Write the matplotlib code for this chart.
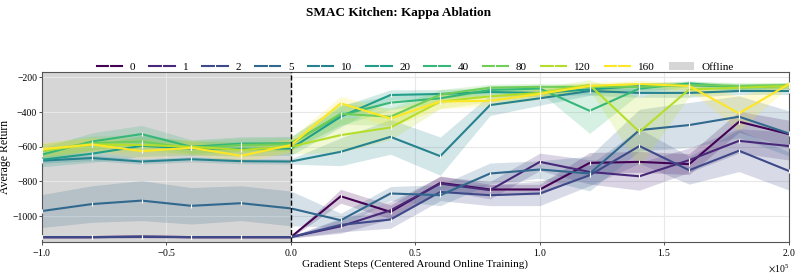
import numpy as np
import matplotlib
matplotlib.use("Agg")
import matplotlib.pyplot as plt
from matplotlib.patches import Patch

plt.rcParams['font.family'] = ['Liberation Serif', 'DejaVu Serif']
plt.rcParams['mathtext.fontset'] = 'stix'

# x positions (gradient steps / 1e5): offline -1..0, online 0..2
steps = [-1.0, -0.8, -0.6, -0.4, -0.2, 0.0, 0.2, 0.4, 0.6, 0.8, 1.0, 1.2, 1.4, 1.6, 1.8, 2.0]
kappas = ["0", "1", "2", "5", "10", "20", "40", "80", "120", "160"]

k0_mean   = [-1120, -1120, -1118, -1120, -1120, -1120, -885, -975, -808, -846, -846, -693, -687, -700, -456, -527]
k1_mean   = [-1120, -1120, -1118, -1120, -1120, -1120, -1058, -966, -812, -850, -687, -745, -770, -677, -566, -596]
k2_mean   = [-1120, -1120, -1118, -1120, -1120, -1120, -1050, -1019, -860, -879, -869, -764, -596, -735, -623, -739]
k5_mean   = [-970, -930, -910, -940, -925, -955, -1023, -869, -879, -754, -731, -754, -504, -475, -427, -523]
k10_mean  = [-680, -665, -685, -672, -683, -685, -629, -543, -654, -360, -321, -279, -290, -290, -279, -279]
k20_mean  = [-675, -640, -595, -610, -612, -610, -427, -302, -296, -285, -290, -270, -250, -245, -255, -250]
k40_mean  = [-645, -570, -527, -600, -582, -580, -418, -346, -321, -273, -265, -393, -265, -235, -258, -248]
k80_mean  = [-625, -578, -570, -608, -590, -585, -410, -427, -300, -260, -255, -255, -255, -245, -250, -245]
k120_mean = [-622, -588, -590, -600, -618, -600, -533, -489, -340, -310, -290, -244, -514, -270, -260, -250]
k160_mean = [-614, -587, -625, -606, -652, -590, -350, -437, -340, -335, -296, -250, -239, -250, -408, -239]

k0_std   = [5, 5, 5, 5, 5, 5, 40, 40, 40, 30, 30, 60, 60, 60, 60, 80]
k1_std   = [5, 5, 5, 5, 5, 5, 40, 50, 40, 50, 50, 70, 80, 70, 70, 80]
k2_std   = [5, 5, 5, 5, 5, 5, 40, 50, 50, 60, 70, 60, 100, 80, 120, 110]
k5_std   = [95, 105, 115, 105, 100, 100, 40, 40, 60, 60, 50, 100, 120, 130, 120, 130]
k10_std  = [15, 15, 15, 15, 15, 15, 80, 100, 110, 60, 40, 25, 25, 25, 20, 20]
k20_std  = [40, 50, 60, 40, 40, 40, 60, 30, 25, 25, 20, 30, 20, 15, 15, 15]
k40_std  = [40, 50, 50, 40, 40, 40, 60, 40, 30, 25, 20, 130, 30, 15, 20, 15]
k80_std  = [40, 40, 40, 40, 40, 40, 60, 50, 30, 20, 20, 20, 20, 20, 20, 15]
k120_std = [40, 40, 40, 40, 40, 40, 100, 70, 40, 30, 30, 30, 200, 40, 20, 15]
k160_std = [40, 40, 40, 40, 40, 40, 40, 50, 40, 30, 30, 20, 20, 20, 100, 15]

means = [k0_mean, k1_mean, k2_mean, k5_mean, k10_mean, k20_mean, k40_mean, k80_mean, k120_mean, k160_mean]
stds = [k0_std, k1_std, k2_std, k5_std, k10_std, k20_std, k40_std, k80_std, k120_std, k160_std]

fig = plt.figure(figsize=(7.97, 2.74), dpi=100)
ax = fig.add_axes([0.0527, 0.117, 0.937, 0.62])

x = np.array(steps) * 1e5
colors = plt.cm.viridis(np.linspace(0, 1, len(kappas)))

ax.axvspan(-1e5, 0, color='#d6d6d6', zorder=0.5, lw=0)

handles = []
for lab, m, s, c in zip(kappas, means, stds, colors):
    m = np.array(m, float)
    s = np.array(s, float)
    ax.fill_between(x, m - s, m + s, color=c, alpha=0.2, lw=0, zorder=2)
    h, = ax.plot(x, m, color=c, lw=1.5, zorder=3, marker='|', ms=3.5,
                 mec='white', mew=0.8, label=lab)
    handles.append(h)

ax.axvline(0, color='black', ls='--', lw=1.0, zorder=4)
handles.append(Patch(facecolor='#d6d6d6', edgecolor='none', label='Offline'))

ax.set_xlim(-1e5, 2e5)
ax.set_ylim(-1148, -170)
ax.set_yticks([-1000, -800, -600, -400, -200])
ax.set_xticks(np.array([-1.0, -0.5, 0.0, 0.5, 1.0, 1.5, 2.0]) * 1e5)
ax.ticklabel_format(axis='x', style='sci', scilimits=(0, 0), useMathText=True)
ax.xaxis.get_offset_text().set_fontsize(7)
ax.tick_params(labelsize=7, length=2, width=0.6, pad=1.5, colors='#333333', labelcolor='black')
ax.grid(True, color='#e8e8e8', lw=0.8, zorder=1)
for sp in ax.spines.values():
    sp.set_color('#555555')
    sp.set_linewidth(0.8)

ax.set_xlabel('Gradient Steps (Centered Around Online Training)', fontsize=8, labelpad=1)
ax.set_ylabel('Average Return', fontsize=8.5)
ax.yaxis.set_label_coords(-0.041, 0.5)

ax.legend(handles=handles, loc='center', bbox_to_anchor=(0.5, 1.03), ncol=11,
          frameon=False, fontsize=8, handlelength=2.3, columnspacing=1.25,
          handletextpad=0.7, borderaxespad=0)

fig.suptitle('SMAC Kitchen: Kappa Ablation', fontsize=9.5, fontweight='bold', y=0.975)

fig.savefig('out.png', dpi=100)
